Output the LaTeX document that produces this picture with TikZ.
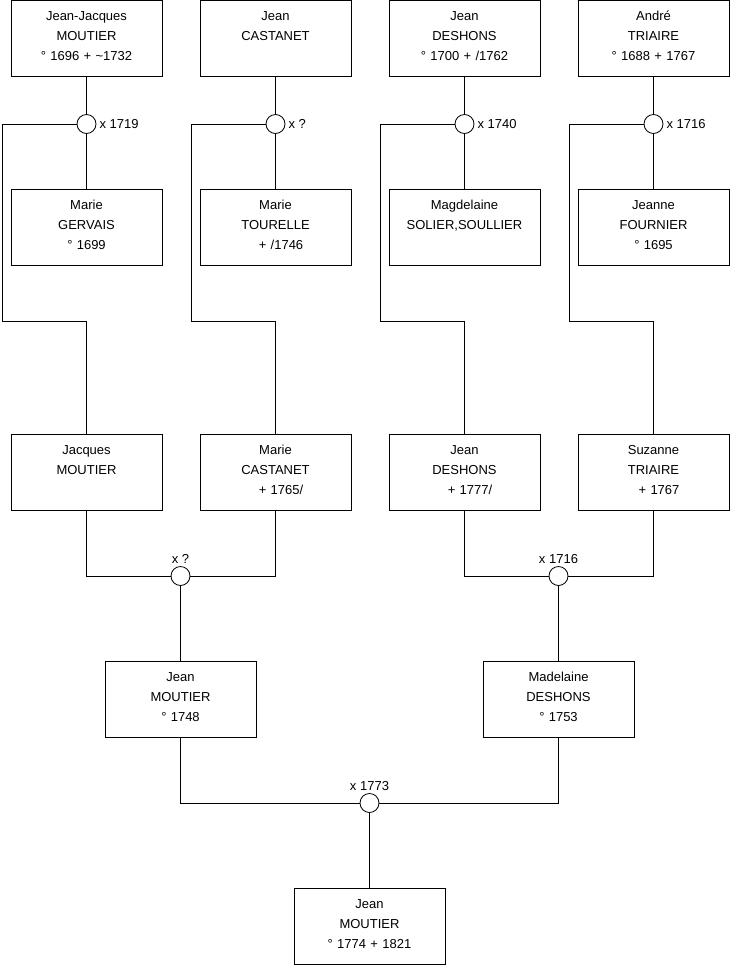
\documentclass[tikz,border=0pt]{standalone}
\usepackage{fontspec}
\setmainfont{Liberation Sans}
\usetikzlibrary{positioning}
\tikzset{person/.style={draw,line width=0.8pt,inner sep=0pt,text width=151pt,text height=20pt,text depth=56pt,align=center,font=\fontsize{13}{20}\selectfont},
 wedding/.style={circle,draw,line width=0.8pt,fill=white,minimum size=19pt,inner sep=0pt},
 year/.style={inner sep=1pt,font=\fontsize{13}{15}\selectfont},
 link/.style={line width=0.8pt}}

\begin{document}
\begin{tikzpicture}[x=1pt,y=-1pt]
 \useasboundingbox (0,0) rectangle (740,975);
 % grandparents couples
 \node[person] (p1) at (86.5,38) {Jean-Jacques\\MOUTIER\\° 1696 + \textasciitilde1732};
 \node[person] (p2) at (275.5,38) {Jean\\CASTANET};
 \node[person] (p3) at (464.5,38) {Jean\\DESHONS\\° 1700 + /1762};
 \node[person] (p4) at (653.5,38) {André\\TRIAIRE\\° 1688 + 1767};
 \node[person] (w1) at (86.5,227) {Marie\\GERVAIS\\° 1699};
 \node[person] (w2) at (275.5,227) {Marie\\TOURELLE\\\hspace*{11pt}+ /1746};
 \node[person] (w3) at (464.5,227) {Magdelaine\\SOLIER,SOULLIER};
 \node[person] (w4) at (653.5,227) {Jeanne\\FOURNIER\\° 1695};
 \foreach \x/\i/\y in {86.5/1/x 1719,275.5/2/x ?,464.5/3/x 1740,653.5/4/x 1716}{
  \node[wedding] (m\i) at (\x,124) {};
  \node[year,right=2pt of m\i] (y\i) {\y};
 }
 \coordinate (k1) at (2,321);
 \coordinate (k2) at (191,321);
 \coordinate (k3) at (380,321);
 \coordinate (k4) at (569,321);
 % parents
 \node[person] (c1) at (86.5,472) {Jacques\\MOUTIER};
 \node[person] (c2) at (275.5,472) {Marie\\CASTANET\\\hspace*{11pt}+ 1765/};
 \node[person] (c3) at (464.5,472) {Jean\\DESHONS\\\hspace*{11pt}+ 1777/};
 \node[person] (c4) at (653.5,472) {Suzanne\\TRIAIRE\\\hspace*{11pt}+ 1767};
 \foreach \i in {1,...,4}{
  \draw[link] (p\i) -- (m\i) -- (w\i);
  \draw[link] (m\i.west) -| (k\i) -| (c\i.north);
 }
 \node[wedding] (m5) at (180.5,576) {};
 \node[wedding] (m6) at (558.5,576) {};
 \node[year,above=1pt of m5] (y5) {x ?};
 \node[year,above=1pt of m6] (y6) {x 1716};
 \node[person] (g1) at (180.5,699.5) {Jean\\MOUTIER\\° 1748};
 \node[person] (g2) at (558.5,699.5) {Madelaine\\DESHONS\\° 1753};
 \draw[link] (c1.south) |- (m5) -| (c2.south);
 \draw[link] (c3.south) |- (m6) -| (c4.south);
 \draw[link] (m5) -- (g1);
 \draw[link] (m6) -- (g2);
 % last couple
 \node[wedding] (m7) at (369.5,803) {};
 \node[year,above=1pt of m7] (y7) {x 1773};
 \node[person] (me) at (369.5,926) {Jean\\MOUTIER\\° 1774 + 1821};
 \draw[link] (g1.south) |- (m7) -| (g2.south);
 \draw[link] (m7) -- (me);
\end{tikzpicture}
\end{document}
